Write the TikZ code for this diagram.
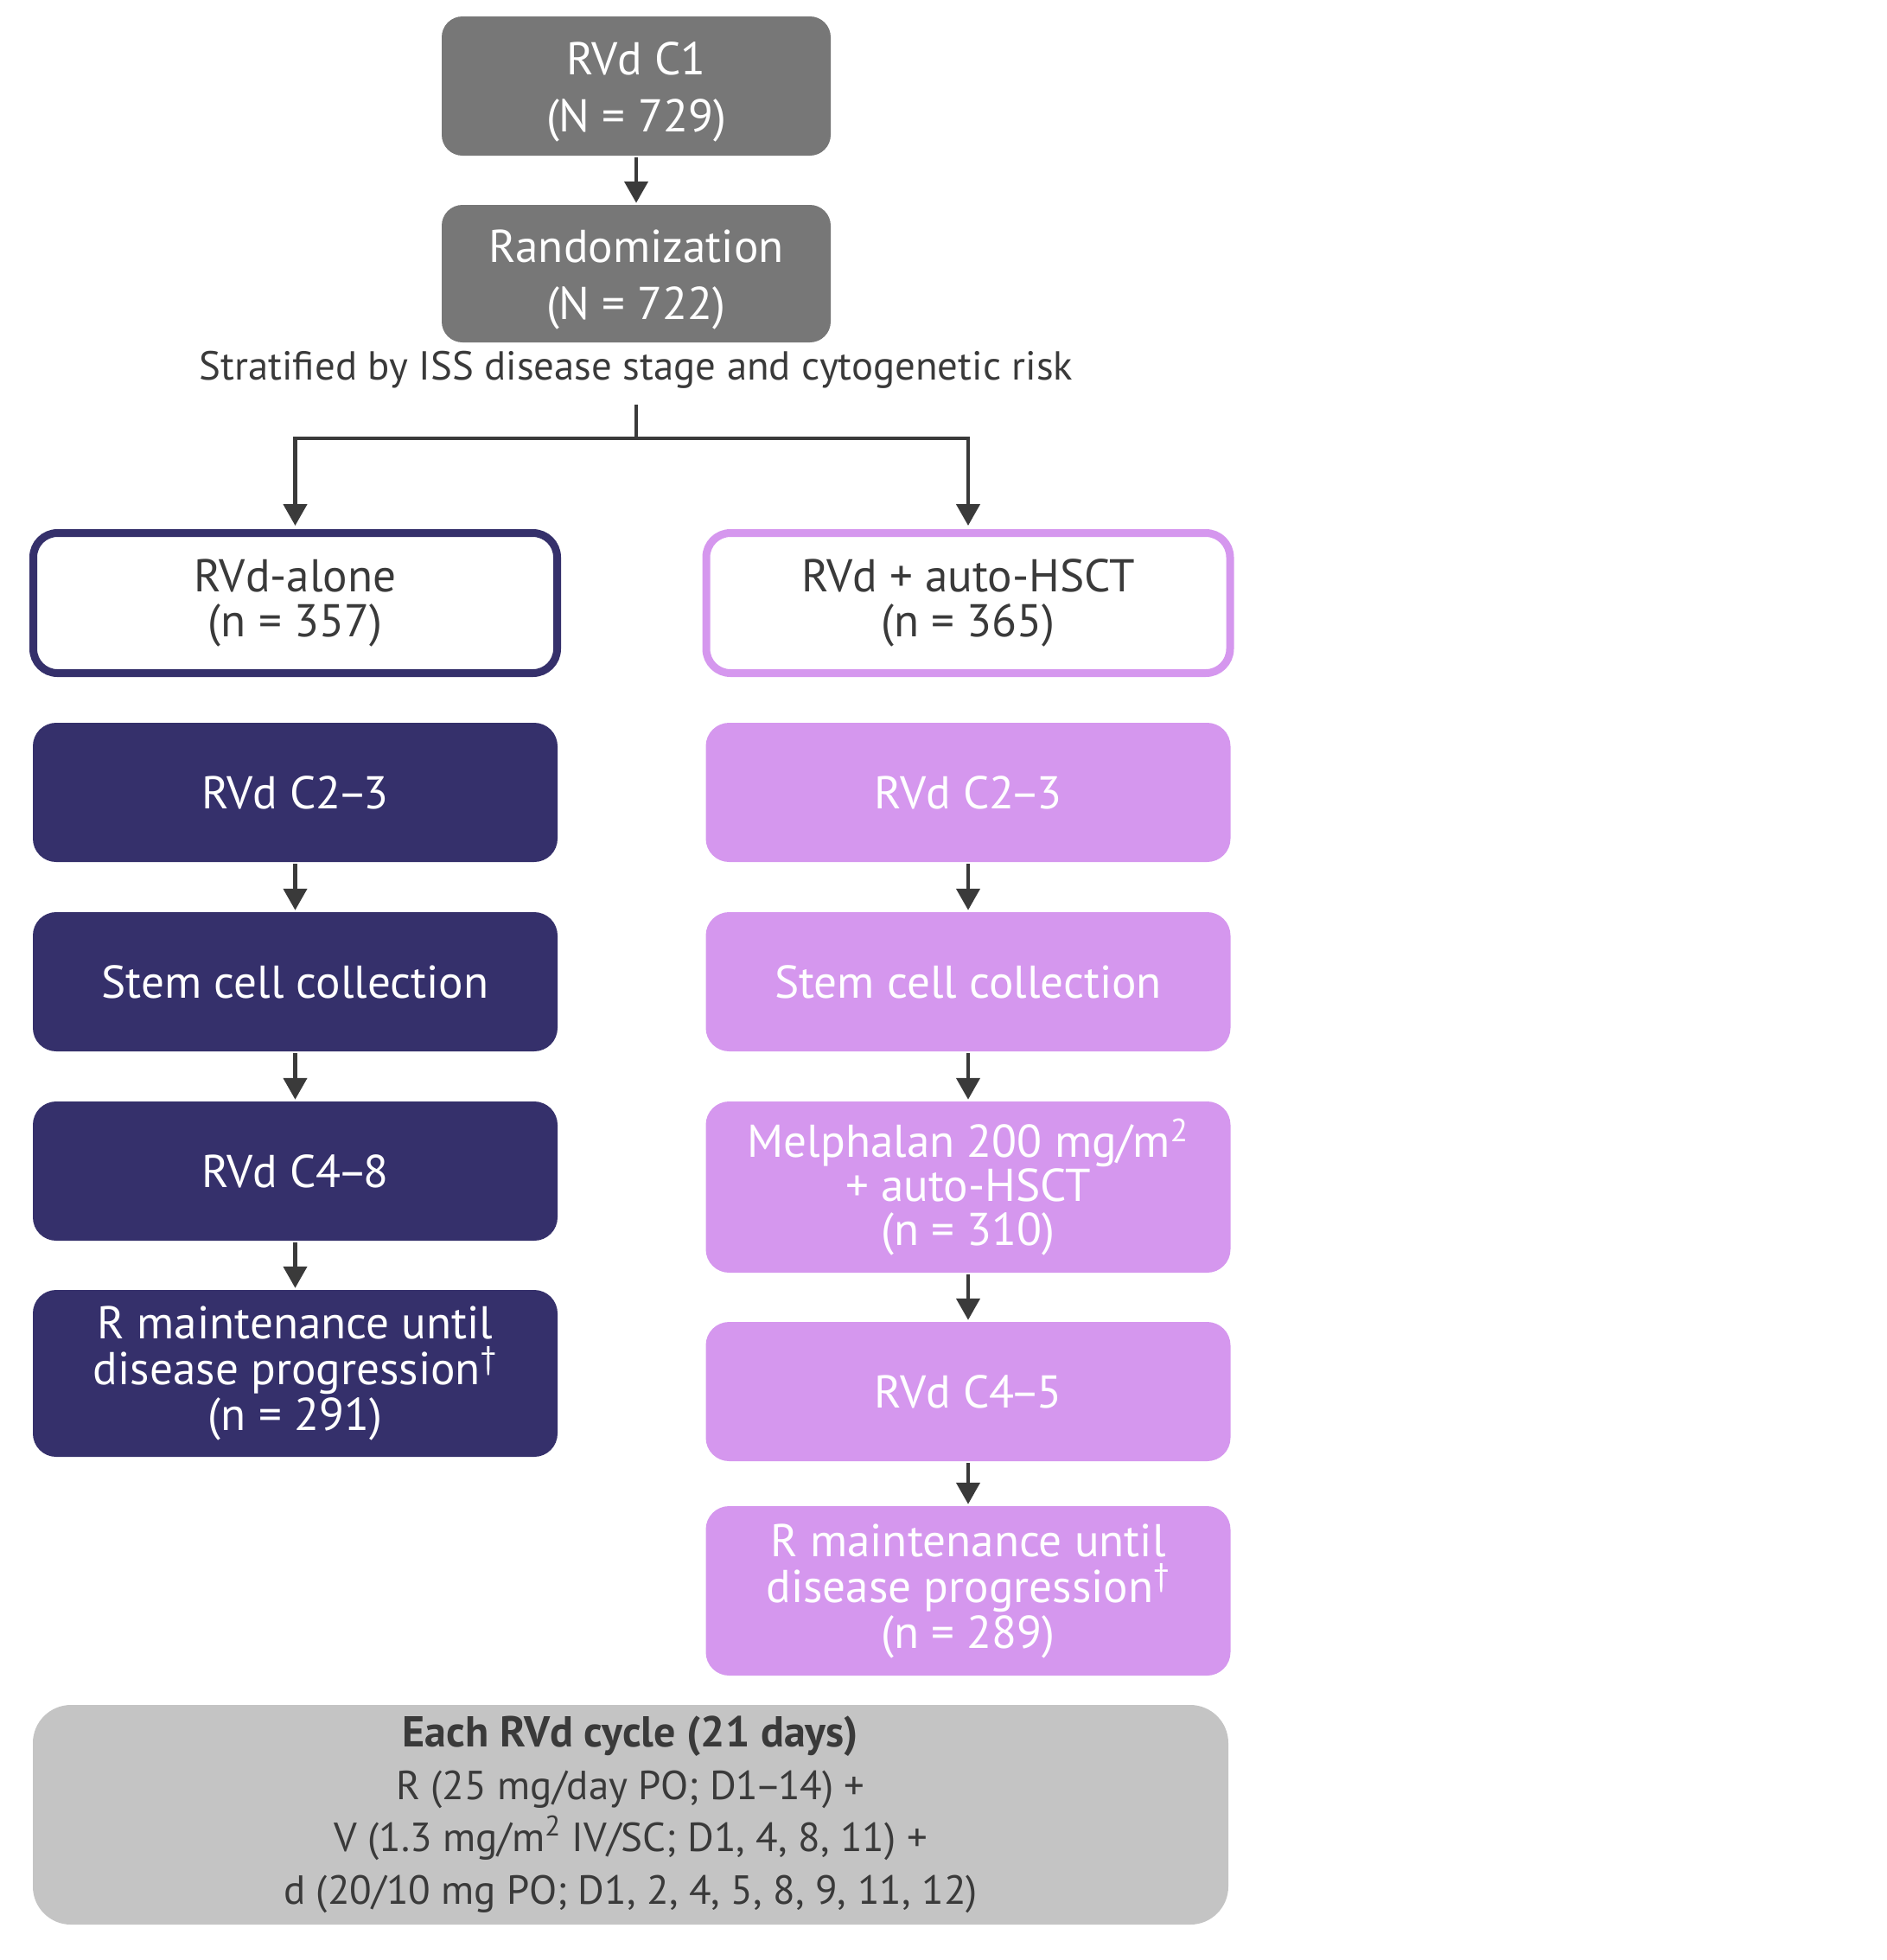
\documentclass[tikz,border=0pt]{standalone}
\usepackage{fontspec}
\setmainfont{PT Sans}
\usetikzlibrary{arrows.meta,positioning}
\definecolor{ink}{HTML}{3A3A3A}
\definecolor{navy}{HTML}{35306B}
\definecolor{lilac}{HTML}{D597EE}
\definecolor{slate}{HTML}{777777}
\definecolor{mist}{HTML}{C4C4C4}
\newcommand\thru{\kern-.09em--\kern-.09em}
\newcommand\lowstrut{\rule{0pt}{26pt}}
\tikzset{
  grey box/.style={fill=slate, text=white, rounded corners=12pt, minimum width=225pt, align=center, font=\fontsize{26.6}{33}\selectfont},
  arm box/.style={fill=white, line width=4.5pt, rounded corners=14pt, minimum width=303pt, minimum height=81pt, text=ink, align=center, font=\fontsize{26.6}{25.8}\selectfont},
  alone step/.style={fill=navy, text=white, rounded corners=13.5pt, minimum width=303.5pt, minimum height=80.5pt, align=center, font=\fontsize{26.6}{26.5}\selectfont},
  hsct step/.style={alone step, fill=lilac},
}
\begin{document}
\begin{tikzpicture}[->, >={Triangle[width=13.5pt,length=12.5pt]}, line width=2.25pt, draw=ink, node distance=109.5pt]
  \useasboundingbox (0,0) rectangle (1091.5pt,-1133.5pt);

  \node(c1) [grey box, minimum height=80.5pt] at (368pt,-49.75pt) {\lowstrut RVd C1\\(N = 729)};
  \node(rand) [grey box, minimum height=79.5pt, below of=c1, node distance=108.5pt] {\lowstrut Randomization\\(N = 722)};
  \node(strat) [below of=rand, node distance=55.75pt, text=ink, font=\fontsize{23.4}{26}\selectfont] {Stratified by ISS disease stage and cytogenetic risk};
  \coordinate(fork) at (368pt,-234pt);

  \node(alone) [arm box, draw=navy, below of=strat, node distance=134.75pt, xshift=-197.25pt] {RVd-alone\\(n = 357)};
  \node(hsct) [arm box, draw=lilac, below of=strat, node distance=134.75pt, xshift=192pt] {RVd + auto-HSCT\\(n = 365)};

  % RVd-alone arm
  \node(a1) [alone step, below of=alone] {RVd C2\thru3};
  \node(a2) [alone step, below of=a1] {Stem cell collection};
  \node(a3) [alone step, below of=a2] {RVd C4\thru8};
  \node(a4) [alone step, minimum height=96.5pt, below of=a3, node distance=117pt] {R maintenance until\\disease progression\textsuperscript{†}\\(n = 291)};

  % auto-HSCT arm
  \node(h1) [hsct step, below of=hsct] {RVd C2\thru3};
  \node(h2) [hsct step, below of=h1] {Stem cell collection};
  \node(h3) [hsct step, minimum height=99pt, below of=h2, node distance=118.75pt, font=\fontsize{26.6}{25.6}\selectfont] {Melphalan 200 mg/m\textsuperscript{2}\\+ auto-HSCT\\(n = 310)};
  \node(h4) [hsct step, below of=h3, node distance=118.25pt] {RVd C4\thru5};
  \node(h5) [hsct step, minimum height=98pt, below of=h4, node distance=115.25pt] {R maintenance until\\disease progression\textsuperscript{†}\\(n = 289)};

  \node(cycle) [fill=mist, rounded corners=22pt, minimum width=691.5pt, minimum height=127pt, text=ink, align=center, font=\fontsize{23.5}{30.25}\selectfont] at (364.75pt,-1049.5pt)
    {{\fontsize{25}{30.25}\selectfont\bfseries Each RVd cycle (21 days)}\\R (25 mg/day PO; D1\thru14) +\\V (1.3 mg/m\textsuperscript{2} IV/SC; D1, 4, 8, 11) +\\d (20/10 mg PO; D1, 2, 4, 5, 8, 9, 11, 12)};

  \draw (c1) -- (rand);
  \draw[shorten >=2pt] (fork) -- ++(0,-19.5pt) -| (alone.north);
  \draw[shorten >=2pt] (fork) -- ++(0,-19.5pt) -| (hsct.north);
  \draw (a1) -- (a2);
  \draw (a2) -- (a3);
  \draw (a3) -- (a4);
  \draw (h1) -- (h2);
  \draw (h2) -- (h3);
  \draw (h3) -- (h4);
  \draw (h4) -- (h5);
\end{tikzpicture}
\end{document}
